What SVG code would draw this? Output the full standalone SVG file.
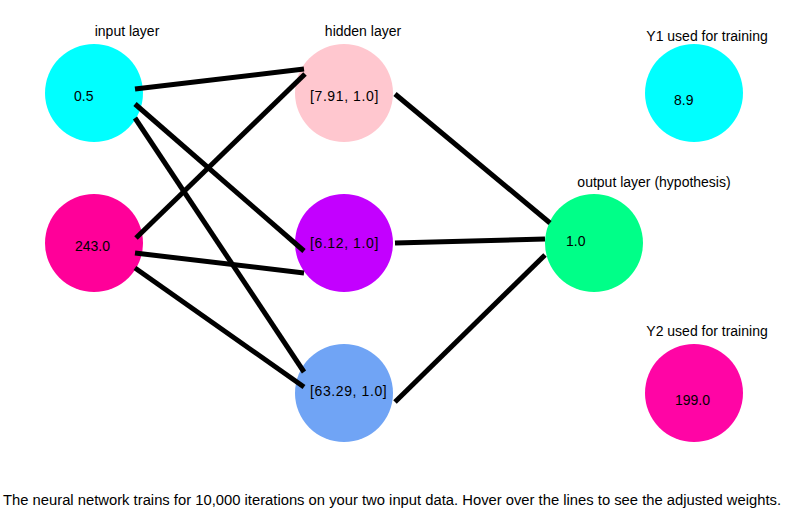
<svg xmlns="http://www.w3.org/2000/svg" width="791" height="521" viewBox="0 0 791 521">
<style>
text{font-family:"Liberation Sans",Arial,Helvetica,sans-serif;font-size:14px;fill:#000}
.title{text-anchor:middle}
.vec{letter-spacing:0.6px}
.edge{stroke:#000;stroke-width:5;fill:none}
</style>
<rect width="791" height="521" fill="#fff"/>
<g id="labels">
<text class="title" x="127" y="36">input layer</text>
<text class="title" x="363" y="36">hidden layer</text>
<text class="title" x="707" y="41">Y1 used for training</text>
<text class="title" x="654" y="187">output layer (hypothesis)</text>
<text class="title" x="707" y="336">Y2 used for training</text>
</g>
<g id="in1"><circle cx="94" cy="93" r="49" fill="#00FFFF"/><text x="74" y="101">0.5</text></g>
<g id="in2"><circle cx="94" cy="243" r="49" fill="#FF0099"/><text x="75" y="251">243.0</text></g>
<g id="h1"><circle cx="344" cy="93" r="49" fill="#FFC7CF"/><text class="vec" x="310" y="101">[7.91, 1.0]</text></g>
<g id="h2"><circle cx="344" cy="243" r="49" fill="#C300FF"/><text class="vec" x="310" y="248">[6.12, 1.0]</text></g>
<g id="h3"><circle cx="344" cy="393" r="49" fill="#70A4F5"/><text class="vec" x="310" y="396">[63.29, 1.0]</text></g>
<g id="out"><circle cx="594" cy="243" r="49" fill="#00FF88"/><text x="566" y="246">1.0</text></g>
<g id="y1"><circle cx="694" cy="93" r="49" fill="#00FFFF"/><text x="674" y="105">8.9</text></g>
<g id="y2"><circle cx="694" cy="393" r="49" fill="#FF05A5"/><text x="675" y="405">199.0</text></g>
<g id="connectors">
<line class="edge" x1="135" y1="89" x2="304" y2="69"/>
<line class="edge" x1="135" y1="104" x2="304" y2="251"/>
<line class="edge" x1="135" y1="118" x2="304" y2="372"/>
<line class="edge" x1="136" y1="238" x2="305" y2="74"/>
<line class="edge" x1="135" y1="253" x2="304" y2="273"/>
<line class="edge" x1="135" y1="268" x2="304" y2="387"/>
<line class="edge" x1="395" y1="94" x2="550" y2="223"/>
<line class="edge" x1="395" y1="243" x2="545" y2="239"/>
<line class="edge" x1="395" y1="402" x2="545" y2="255"/>
</g>
<text id="caption" x="3" y="505" font-size="13" textLength="778" lengthAdjust="spacingAndGlyphs">The neural network trains for 10,000 iterations on your two input data. Hover over the lines to see the adjusted weights.</text>
</svg>
